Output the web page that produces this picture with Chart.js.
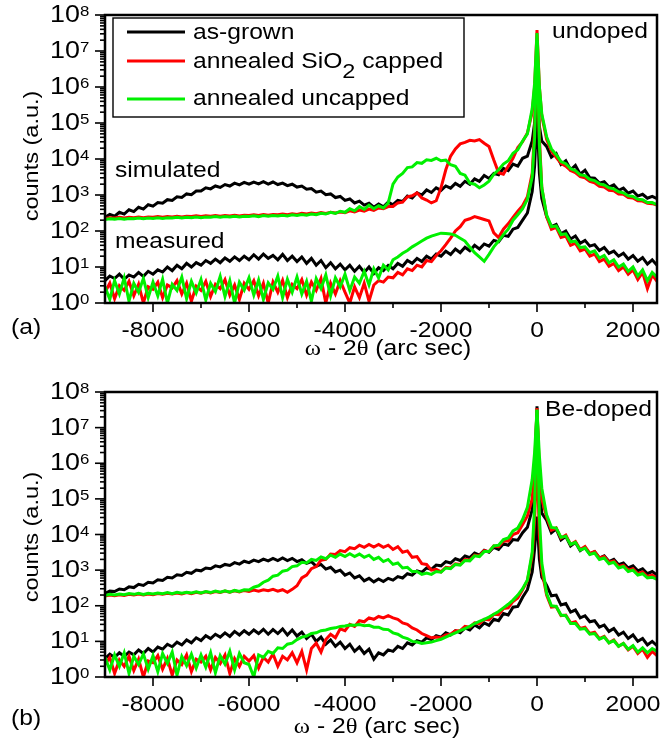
<!DOCTYPE html>
<html>
<head>
<meta charset="utf-8">
<script src="https://cdn.jsdelivr.net/npm/chart.js@4.4.0/dist/chart.umd.min.js"></script>
<style>
  html, body { margin: 0; padding: 0; background: #fff; }
  #wrap { position: relative; width: 664px; height: 746px; overflow: hidden; }
  canvas { position: absolute; left: 0; }
  #chartA { top: 0; }
  #chartB { top: 372px; }
</style>
</head>
<body>
<div id="wrap">
  <canvas id="chartA" width="664" height="372"></canvas>
  <canvas id="chartB" width="664" height="374"></canvas>
</div>
<script>
// omega - 2theta positions (arc sec), shared by every curve
const omegaGrid = [
  -9000,-8900,-8800,-8700,-8600,-8500,-8400,-8300,-8200,-8100,
  -8000,-7900,-7800,-7700,-7600,-7500,-7400,-7300,-7200,-7100,
  -7000,-6900,-6800,-6700,-6600,-6500,-6400,-6300,-6200,-6100,
  -6000,-5900,-5800,-5700,-5600,-5500,-5400,-5300,-5200,-5100,
  -5000,-4900,-4800,-4700,-4600,-4500,-4400,-4300,-4200,-4100,
  -4000,-3900,-3800,-3700,-3600,-3500,-3400,-3300,-3200,-3100,
  -3000,-2900,-2800,-2700,-2600,-2500,-2400,-2300,-2200,-2100,
  -2000,-1900,-1800,-1700,-1600,-1500,-1400,-1300,-1200,-1100,
  -1000,-900,-800,-700,-600,-500,-400,-300,-200,
  -100,-50,0,50,100,
  200,300,400,500,600,700,800,900,1000,1100,
  1200,1300,1400,1500,1600,1700,1800,1900,2000,2100,
  2200,2300,2400,2500
];

// all intensities below are log10(counts)
// (a) undoped - simulated
const simAsGrownA = [
  2.38,2.46,2.41,2.52,2.47,2.59,2.54,2.66,2.61,2.73,
  2.69,2.79,2.77,2.87,2.85,2.95,2.93,3.03,3.01,3.11,
  3.11,3.20,3.17,3.25,3.21,3.29,3.25,3.33,3.28,3.35,
  3.30,3.36,3.31,3.37,3.30,3.36,3.29,3.33,3.26,3.30,
  3.22,3.25,3.16,3.18,3.08,3.11,3.01,3.03,2.93,2.96,
  2.85,2.89,2.78,2.83,2.72,2.77,2.66,2.75,2.67,2.80,
  2.73,2.85,2.82,2.97,2.92,3.06,3.00,3.14,3.07,3.20,
  3.13,3.25,3.19,3.32,3.24,3.38,3.30,3.45,3.38,3.54,
  3.46,3.60,3.56,3.74,3.68,3.86,3.80,4.02,4.08,
  4.50,5.00,5.90,4.90,4.50,
  4.35,4.05,4.15,3.85,3.95,3.70,3.82,3.58,3.69,3.48,
  3.47,3.33,3.37,3.22,3.28,3.13,3.19,3.05,3.11,2.97,
  3.02,2.91,2.96,2.90
];
const simCappedA = [
  2.35,2.37,2.36,2.38,2.36,2.38,2.37,2.39,2.37,2.39,
  2.38,2.40,2.38,2.40,2.39,2.41,2.39,2.41,2.40,2.42,
  2.40,2.42,2.41,2.43,2.41,2.43,2.42,2.44,2.42,2.44,
  2.43,2.45,2.43,2.46,2.44,2.46,2.45,2.47,2.45,2.48,
  2.46,2.49,2.47,2.50,2.48,2.51,2.49,2.52,2.50,2.53,
  2.51,2.56,2.53,2.58,2.55,2.61,2.57,2.64,2.62,2.68,
  2.68,2.78,2.80,2.95,2.98,3.06,2.92,2.86,2.78,2.84,
  3.20,3.70,4.08,4.28,4.42,4.46,4.52,4.50,4.54,4.44,
  4.35,3.97,3.62,3.58,3.80,4.02,4.32,4.48,4.72,
  5.30,6.00,7.58,6.00,5.20,
  4.55,4.22,4.05,3.88,3.80,3.68,3.62,3.51,3.48,3.38,
  3.34,3.24,3.22,3.13,3.12,3.03,3.02,2.93,2.92,2.84,
  2.83,2.77,2.76,2.72
];
const simUncappedA = [
  2.32,2.34,2.33,2.35,2.33,2.35,2.34,2.36,2.34,2.36,
  2.35,2.37,2.35,2.37,2.36,2.38,2.36,2.38,2.37,2.39,
  2.37,2.39,2.38,2.40,2.38,2.40,2.39,2.41,2.39,2.41,
  2.40,2.42,2.40,2.43,2.41,2.43,2.42,2.44,2.42,2.45,
  2.43,2.46,2.44,2.47,2.45,2.49,2.47,2.52,2.49,2.55,
  2.52,2.62,2.56,2.68,2.60,2.72,2.62,2.70,2.64,2.78,
  3.30,3.50,3.60,3.76,3.78,3.90,3.88,3.98,3.96,4.02,
  3.95,3.97,3.84,3.80,3.60,3.55,3.33,3.30,3.20,3.28,
  3.38,3.58,3.70,3.86,3.95,4.16,4.26,4.50,4.70,
  5.40,6.10,7.50,6.00,5.25,
  4.62,4.28,4.12,3.93,3.87,3.73,3.68,3.56,3.54,3.43,
  3.40,3.31,3.28,3.20,3.17,3.09,3.06,2.98,2.96,2.88,
  2.87,2.79,2.79,2.73
];
// (a) undoped - measured
const measAsGrownA = [
  0.62,0.75,0.68,0.80,0.66,0.78,0.72,0.85,0.74,0.88,
  0.80,0.92,0.86,1.00,0.90,1.05,0.95,1.10,1.00,1.12,
  1.05,1.18,1.10,1.22,1.12,1.25,1.16,1.28,1.18,1.30,
  1.20,1.34,1.22,1.36,1.24,1.32,1.20,1.35,1.18,1.30,
  1.15,1.28,1.10,1.24,1.05,1.18,0.98,1.12,0.95,1.08,
  0.92,1.05,0.88,1.02,0.85,1.00,0.82,0.98,0.90,1.04,
  0.95,1.10,1.02,1.18,1.10,1.24,1.15,1.30,1.22,1.36,
  1.30,1.44,1.35,1.50,1.40,1.55,1.45,1.60,1.50,1.64,
  1.58,1.74,1.70,1.88,1.85,2.05,2.10,2.30,2.50,
  3.10,3.80,5.30,3.60,2.90,
  2.40,2.12,2.18,1.92,2.00,1.78,1.86,1.66,1.74,1.58,
  1.62,1.46,1.54,1.38,1.44,1.30,1.38,1.22,1.32,1.16,
  1.26,1.08,1.20,1.05
];
const measCappedA = [
  0.30,0.55,0.12,0.48,0.35,0.60,0.20,0.52,0.00,0.45,
  0.38,0.58,0.15,0.50,0.42,0.62,0.25,0.55,0.05,0.47,
  0.35,0.60,0.18,0.52,0.40,0.65,0.22,0.50,0.10,0.55,
  0.38,0.62,0.20,0.55,0.00,0.58,0.30,0.63,0.15,0.52,
  0.40,0.65,0.22,0.58,0.35,0.68,0.00,0.55,0.25,0.62,
  0.30,0.00,0.45,0.15,0.55,0.05,0.50,0.62,0.58,0.72,
  0.70,0.85,0.78,0.95,0.90,1.05,1.00,1.18,1.15,1.32,
  1.45,1.62,1.80,2.00,2.12,2.30,2.34,2.40,2.36,2.32,
  2.28,1.95,1.82,2.05,2.20,2.38,2.55,2.70,2.95,
  3.60,4.80,7.00,4.60,3.20,
  2.40,2.05,2.10,1.82,1.86,1.60,1.66,1.45,1.50,1.30,
  1.36,1.15,1.22,1.02,1.10,0.90,1.00,0.80,0.92,0.65,
  0.85,0.40,0.78,0.60
];
const measUncappedA = [
  0.45,0.10,0.62,0.25,0.70,0.05,0.55,0.30,0.68,0.15,
  0.58,0.20,0.66,0.00,0.52,0.35,0.72,0.12,0.60,0.28,
  0.65,0.08,0.55,0.32,0.74,0.18,0.62,0.00,0.58,0.36,
  0.70,0.22,0.64,0.10,0.56,0.38,0.75,0.15,0.66,0.30,
  0.72,0.25,0.60,0.05,0.68,0.40,0.78,0.20,0.70,0.45,
  0.80,0.35,0.72,0.55,0.88,0.50,0.95,0.70,1.05,0.92,
  1.20,1.28,1.38,1.46,1.56,1.64,1.72,1.80,1.86,1.90,
  1.94,1.93,1.92,1.88,1.80,1.72,1.55,1.40,1.28,1.16,
  1.35,1.56,1.72,1.90,2.05,2.30,2.45,2.62,2.88,
  3.50,4.60,7.30,4.40,3.20,
  2.45,2.12,2.14,1.90,1.92,1.70,1.72,1.54,1.56,1.40,
  1.45,1.25,1.32,1.12,1.20,1.00,1.08,0.88,1.00,0.75,
  0.92,0.62,0.85,0.72
];

// (b) Be-doped - simulated
const simAsGrownB = [
  2.35,2.41,2.40,2.47,2.45,2.53,2.51,2.60,2.57,2.66,
  2.64,2.73,2.71,2.80,2.78,2.87,2.85,2.94,2.91,3.00,
  2.98,3.06,3.04,3.12,3.09,3.16,3.13,3.21,3.17,3.25,
  3.21,3.28,3.24,3.31,3.26,3.33,3.27,3.34,3.27,3.33,
  3.24,3.29,3.19,3.24,3.11,3.16,3.03,3.08,2.95,3.00,
  2.86,2.92,2.78,2.84,2.70,2.77,2.67,2.75,2.68,2.77,
  2.72,2.82,2.78,2.90,2.86,2.98,2.94,3.06,3.02,3.14,
  3.12,3.24,3.20,3.32,3.27,3.40,3.35,3.48,3.42,3.56,
  3.50,3.64,3.58,3.74,3.70,3.86,3.84,4.05,4.20,
  4.70,5.60,7.60,5.30,4.60,
  4.40,4.05,4.16,3.85,3.95,3.68,3.78,3.55,3.64,3.45,
  3.52,3.34,3.40,3.24,3.30,3.15,3.20,3.06,3.12,2.98,
  3.04,2.90,2.96,2.86
];
const simCappedB = [
  2.27,2.30,2.28,2.31,2.29,2.32,2.30,2.33,2.30,2.33,
  2.31,2.34,2.32,2.35,2.33,2.36,2.33,2.37,2.34,2.38,
  2.35,2.39,2.36,2.40,2.37,2.41,2.38,2.42,2.39,2.43,
  2.40,2.44,2.41,2.45,2.42,2.46,2.41,2.45,2.38,2.46,
  2.56,2.78,2.86,3.04,3.10,3.28,3.30,3.45,3.44,3.55,
  3.52,3.63,3.60,3.70,3.64,3.72,3.65,3.72,3.64,3.70,
  3.58,3.66,3.50,3.54,3.36,3.38,3.18,3.16,3.00,3.02,
  2.95,3.08,3.06,3.18,3.16,3.30,3.28,3.42,3.40,3.55,
  3.52,3.68,3.66,3.82,3.82,4.00,4.05,4.28,4.52,
  5.00,5.90,7.55,5.80,5.00,
  4.50,4.12,4.18,3.90,3.98,3.72,3.80,3.58,3.66,3.47,
  3.52,3.34,3.38,3.22,3.26,3.10,3.14,3.00,3.04,2.90,
  2.95,2.82,2.86,2.78
];
const simUncappedB = [
  2.29,2.32,2.30,2.33,2.31,2.34,2.32,2.35,2.32,2.35,
  2.33,2.36,2.34,2.37,2.34,2.38,2.35,2.38,2.36,2.39,
  2.36,2.40,2.37,2.41,2.38,2.42,2.38,2.43,2.40,2.45,
  2.44,2.52,2.56,2.66,2.72,2.83,2.86,2.97,3.00,3.10,
  3.12,3.22,3.20,3.30,3.27,3.37,3.32,3.42,3.36,3.45,
  3.38,3.46,3.38,3.45,3.36,3.42,3.30,3.36,3.24,3.30,
  3.16,3.20,3.06,3.08,2.96,2.96,2.88,2.92,2.88,2.96,
  2.94,3.06,3.04,3.16,3.14,3.27,3.26,3.40,3.38,3.52,
  3.52,3.68,3.70,3.86,3.90,4.10,4.18,4.42,4.76,
  5.55,6.30,7.50,6.20,5.30,
  4.55,4.20,4.18,3.92,3.95,3.72,3.78,3.56,3.62,3.44,
  3.48,3.30,3.34,3.18,3.22,3.06,3.10,2.96,3.00,2.86,
  2.90,2.78,2.80,2.74
];
// (b) Be-doped - measured
const measAsGrownB = [
  0.52,0.64,0.55,0.68,0.58,0.70,0.62,0.76,0.66,0.80,
  0.70,0.84,0.78,0.92,0.85,0.98,0.90,1.04,0.96,1.10,
  1.02,1.16,1.08,1.20,1.12,1.24,1.14,1.28,1.18,1.30,
  1.20,1.32,1.22,1.34,1.20,1.33,1.22,1.35,1.18,1.32,
  1.15,1.26,1.08,1.20,1.00,1.12,0.92,1.04,0.86,0.98,
  0.80,0.92,0.72,0.84,0.66,0.78,0.50,0.68,0.62,0.76,
  0.72,0.86,0.80,0.96,0.90,1.02,0.98,1.10,1.05,1.16,
  1.12,1.24,1.18,1.30,1.24,1.38,1.32,1.46,1.38,1.52,
  1.45,1.62,1.58,1.78,1.74,1.96,1.98,2.24,2.45,
  2.95,3.60,4.50,3.30,2.80,
  2.58,2.28,2.30,2.02,2.06,1.82,1.88,1.66,1.72,1.55,
  1.58,1.40,1.46,1.28,1.36,1.18,1.26,1.08,1.18,1.00,
  1.08,0.90,1.00,0.88
];
const measCappedB = [
  0.35,0.55,0.10,0.48,0.30,0.58,0.18,0.50,0.00,0.45,
  0.40,0.60,0.22,0.52,0.05,0.48,0.35,0.62,0.15,0.50,
  0.42,0.58,0.20,0.55,0.38,0.62,0.10,0.52,0.30,0.58,
  0.45,0.60,0.25,0.55,0.42,0.65,0.30,0.58,0.48,0.68,
  0.40,0.72,0.20,0.80,0.95,0.70,1.05,1.20,1.10,1.35,
  1.30,1.48,1.42,1.58,1.55,1.66,1.62,1.70,1.66,1.72,
  1.66,1.62,1.52,1.48,1.38,1.32,1.22,1.16,1.10,1.12,
  1.10,1.18,1.20,1.30,1.30,1.42,1.40,1.52,1.50,1.62,
  1.60,1.76,1.75,1.92,1.94,2.12,2.22,2.45,2.70,
  3.40,4.40,6.20,4.00,3.00,
  2.30,1.96,1.98,1.72,1.74,1.52,1.55,1.36,1.40,1.22,
  1.26,1.08,1.14,0.96,1.04,0.86,0.94,0.76,0.86,0.66,
  0.78,0.55,0.72,0.60
];
const measUncappedB = [
  0.55,0.20,0.62,0.30,0.68,0.10,0.58,0.35,0.65,0.22,
  0.60,0.15,0.66,0.38,0.70,0.05,0.58,0.32,0.64,0.25,
  0.62,0.28,0.68,0.12,0.60,0.36,0.72,0.20,0.66,0.40,
  0.35,0.00,0.62,0.55,0.72,0.66,0.82,0.80,0.92,0.95,
  1.05,1.12,1.15,1.22,1.24,1.30,1.32,1.36,1.38,1.42,
  1.43,1.46,1.45,1.47,1.44,1.45,1.40,1.40,1.34,1.33,
  1.24,1.20,1.12,1.08,1.00,0.98,0.94,0.96,0.98,1.02,
  1.06,1.12,1.18,1.24,1.30,1.36,1.42,1.50,1.56,1.62,
  1.68,1.76,1.84,1.94,2.04,2.16,2.30,2.48,2.72,
  3.50,4.80,7.50,4.50,3.20,
  2.35,2.00,1.98,1.74,1.72,1.50,1.50,1.34,1.36,1.20,
  1.22,1.06,1.12,0.96,1.02,0.86,0.94,0.78,0.88,0.70,
  0.82,0.68,0.80,0.72
];

const xTicksMajor = [-8000, -6000, -4000, -2000, 0, 2000];
const xTicksMinor = [-7000, -5000, -3000, -1000, 1000];
const yDecades = [0, 1, 2, 3, 4, 5, 6, 7, 8];
const legendLabels = ['as-grown', 'annealed SiO', 'annealed uncapped'];

const BLACK = '#000000', RED = '#ff0000', GREEN = '#00f000';
const SANS = '"Liberation Sans", Arial, sans-serif';
const SERIF = '"Liberation Serif", "Times New Roman", serif';
const SX = 1.12; // the original lettering is a bit wide

function toPoints(logs) {
  if (logs.length !== omegaGrid.length) console.error('length mismatch', logs.length);
  return logs.map((v, i) => ({ x: omegaGrid[i], y: Math.pow(10, v) }));
}

// text with a slight horizontal stretch
function wideText(ctx, s, x, y, size, align, family) {
  ctx.save();
  ctx.font = size + 'px ' + (family || SANS);
  const w = ctx.measureText(s).width * SX;
  const x0 = align === 'center' ? x - w / 2 : align === 'right' ? x - w : x;
  ctx.translate(x0, y);
  ctx.scale(SX, 1);
  ctx.textAlign = 'left';
  ctx.textBaseline = 'alphabetic';
  ctx.fillStyle = '#000';
  ctx.fillText(s, 0, 0);
  ctx.restore();
  return w;
}

function line(ctx, x1, y1, x2, y2) {
  ctx.beginPath(); ctx.moveTo(x1, y1); ctx.lineTo(x2, y2); ctx.stroke();
}

function makePanel(id, s, cfg) {
  const decor = {
    id: 'decor',
    afterDatasetsDraw(chart) {
      const ctx = chart.ctx;
      const a = chart.chartArea;
      const xs = chart.scales.x, ys = chart.scales.y;
      ctx.save();
      ctx.strokeStyle = '#000';
      ctx.lineWidth = 2.5;
      ctx.strokeRect(a.left, a.top, a.right - a.left, a.bottom - a.top);

      // y ticks, major + log minor
      ctx.lineWidth = 1.6;
      yDecades.forEach(n => {
        const py = ys.getPixelForValue(Math.pow(10, n));
        line(ctx, a.left - 10, py, a.left, py);
        wideText(ctx, '10', 80, py + 7, 24, 'right');
        wideText(ctx, String(n), 80, py + 1, 15, 'left');
        if (n < 8) {
          for (let k = 2; k <= 9; k++) {
            const pm = ys.getPixelForValue(k * Math.pow(10, n));
            line(ctx, a.left - 5, pm, a.left, pm);
          }
        }
      });

      // x ticks
      xTicksMajor.forEach(v => {
        const px = xs.getPixelForValue(v);
        line(ctx, px, a.bottom, px, a.bottom + 9);
        wideText(ctx, String(v), px, a.bottom + 34, 22, 'center');
      });
      xTicksMinor.forEach(v => {
        const px = xs.getPixelForValue(v);
        line(ctx, px, a.bottom, px, a.bottom + 5);
      });

      // x title: omega - 2 theta (arc sec)
      const parts = [['ω', SERIF], [' - 2', SANS], ['θ', SERIF], [' (arc sec)', SANS]];
      let total = 0;
      parts.forEach(p => { ctx.font = '22px ' + p[1]; total += ctx.measureText(p[0]).width * SX; });
      let tx = cfg.titleX - total / 2;
      parts.forEach(p => { tx += wideText(ctx, p[0], tx, cfg.titleY, 22, 'left', p[1]); });

      // y title
      ctx.save();
      ctx.translate(38, cfg.yTitleY);
      ctx.rotate(-Math.PI / 2);
      ctx.scale(SX, 1);
      ctx.font = '21px ' + SANS;
      ctx.fillStyle = '#000';
      ctx.textAlign = 'center';
      ctx.fillText('counts (a.u.)', 0, 0);
      ctx.restore();

      wideText(ctx, cfg.tag, 11, cfg.tagY, 22, 'left');
      wideText(ctx, cfg.note, cfg.noteX, cfg.noteY, 22, 'left');
      if (cfg.simY) wideText(ctx, 'simulated', 115, cfg.simY, 22, 'left');
      if (cfg.measY) wideText(ctx, 'measured', 115, cfg.measY, 22, 'left');

      if (cfg.legend) {
        ctx.fillStyle = '#fff';
        ctx.fillRect(113, 18, 351, 99);
        ctx.lineWidth = 1.4;
        ctx.strokeStyle = '#000';
        ctx.strokeRect(113, 18, 351, 99);
        const rows = [[BLACK, 32, 39], [RED, 61, 68], [GREEN, 99, 105]];
        rows.forEach((r, i) => {
          ctx.strokeStyle = r[0];
          ctx.lineWidth = 2.8;
          line(ctx, 127, r[1], 185, r[1]);
          let w = wideText(ctx, legendLabels[i], 193, r[2], 22, 'left');
          if (i === 1) {
            w += wideText(ctx, '2', 193 + w, r[2] + 10, 21, 'left');
            wideText(ctx, ' capped', 193 + w, r[2], 22, 'left');
          }
        });
      }
      ctx.restore();
    }
  };

  const ds = (label, logs, color, width) => ({
    label, data: toPoints(logs), borderColor: color, borderWidth: width,
    pointRadius: 0, tension: 0, fill: false
  });

  new Chart(document.getElementById(id), {
    type: 'line',
    data: {
      // first dataset ends up on top
      datasets: [
        ds('annealed uncapped (sim)', s.simUnc, GREEN, 3),
        ds('annealed uncapped (meas)', s.measUnc, GREEN, 3),
        ds('annealed SiO2 capped (sim)', s.simCap, RED, 3),
        ds('annealed SiO2 capped (meas)', s.measCap, RED, 3),
        ds('as-grown (sim)', s.simAg, BLACK, 3),
        ds('as-grown (meas)', s.measAg, BLACK, 3)
      ]
    },
    options: {
      responsive: false,
      animation: false,
      events: [],
      layout: { padding: cfg.padding },
      plugins: { legend: { display: false }, tooltip: { enabled: false } },
      scales: {
        x: { type: 'linear', min: -9000, max: 2500, display: false },
        y: { type: 'logarithmic', min: 1, max: 1e8, display: false }
      }
    },
    plugins: [decor]
  });
}

makePanel('chartA', {
  simAg: simAsGrownA, simCap: simCappedA, simUnc: simUncappedA,
  measAg: measAsGrownA, measCap: measCappedA, measUnc: measUncappedA
}, {
  padding: { left: 105, right: 7, top: 15, bottom: 69 },
  titleX: 388, titleY: 355, yTitleY: 156,
  tag: '(a)', tagY: 334,
  note: 'undoped', noteX: 552, noteY: 38,
  simY: 177, measY: 248, legend: true
});

makePanel('chartB', {
  simAg: simAsGrownB, simCap: simCappedB, simUnc: simUncappedB,
  measAg: measAsGrownB, measCap: measCappedB, measUnc: measUncappedB
}, {
  padding: { left: 105, right: 7, top: 20, bottom: 69 },
  titleX: 377, titleY: 361, yTitleY: 165,
  tag: '(b)', tagY: 353,
  note: 'Be-doped', noteX: 545, noteY: 44,
  legend: false
});
</script>
</body>
</html>
